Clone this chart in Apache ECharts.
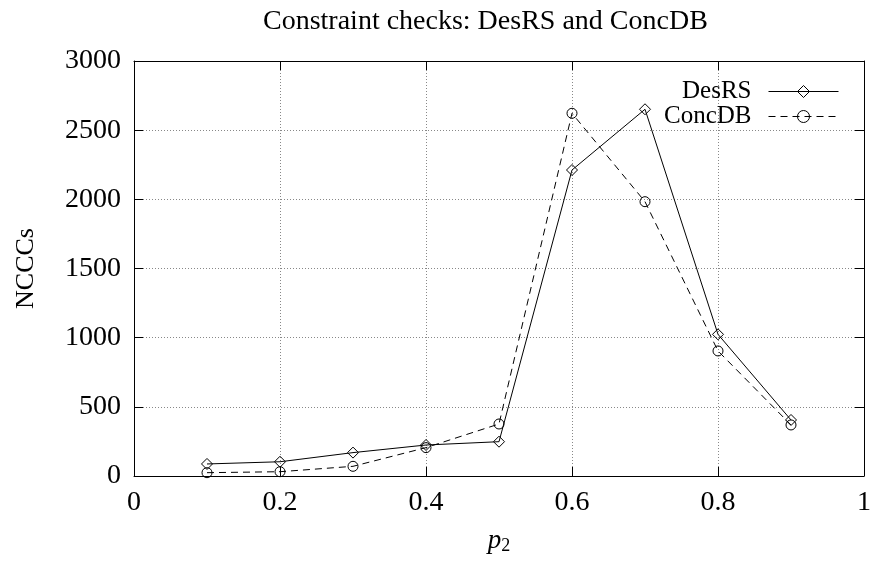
<!DOCTYPE html>
<html>
<head>
<meta charset="utf-8">
<script src="https://cdn.jsdelivr.net/npm/echarts@6/dist/echarts.min.js"></script>
<style>
  html, body { margin: 0; padding: 0; background: #fff; }
  #chart { width: 874px; height: 564px; }
</style>
</head>
<body>
<div id="chart"></div>
<script>
// p2 values and constraint-check counts per solver
const p2 = [0.1, 0.2, 0.3, 0.4, 0.5, 0.6, 0.7, 0.8, 0.9];
const desRS = [87, 103, 169, 224, 248, 2212, 2651, 1024, 405];
const concDB = [24, 31, 70, 205, 376, 2622, 1983, 904, 369];
const seriesNames = ['DesRS', 'ConcDB'];

const FONT = '"Liberation Serif", "Times New Roman", serif';
const pairs = (xs, ys) => xs.map((x, i) => [x, ys[i]]);

const gridLine = { show: true, lineStyle: { color: '#888', type: [1, 2], width: 1 } };
const frame = { show: true, onZero: false, lineStyle: { color: '#000', width: 1 } };
const ticks = { show: true, inside: true, length: 9, lineStyle: { color: '#000' } };
const hollow = { color: 'rgba(255,255,255,0)', borderColor: '#000', borderWidth: 1 };

const chart = echarts.init(document.getElementById('chart'), null, { renderer: 'canvas' });
chart.setOption({
  animation: false,
  backgroundColor: '#fff',
  title: {
    text: 'Constraint checks: DesRS and ConcDB',
    left: 258,
    top: 3,
    textStyle: { fontFamily: FONT, fontSize: 28, fontWeight: 'normal', color: '#000' }
  },
  grid: { left: 134, right: 9, top: 61, bottom: 88, containLabel: false },
  legend: {
    orient: 'vertical',
    right: 30,
    top: 74,
    align: 'right',
    itemWidth: 70,
    itemHeight: 15,
    itemGap: 0,
    lineStyle: { width: 1 },
    textStyle: { fontFamily: FONT, fontSize: 25, color: '#000', padding: [0, 12, 0, 0] },
    data: seriesNames.map(n => ({ name: n, itemStyle: hollow }))
  },
  xAxis: [{
    type: 'value', min: 0, max: 1, interval: 0.2,
    axisLine: frame, axisTick: ticks, splitLine: gridLine,
    axisLabel: { fontFamily: FONT, fontSize: 28, color: '#000', margin: 13 },
    name: '{i|p}{s|2}',
    nameLocation: 'middle',
    nameGap: 51,
    nameTextStyle: {
      rich: {
        i: { fontFamily: FONT, fontSize: 27, fontStyle: 'italic', color: '#000' },
        s: { fontFamily: FONT, fontSize: 18, color: '#000', padding: [10, 0, 0, 0] }
      }
    }
  }, {
    type: 'value', min: 0, max: 1, interval: 0.2, position: 'top',
    axisLine: frame, axisTick: ticks, splitLine: { show: false }, axisLabel: { show: false }
  }],
  yAxis: [{
    type: 'value', min: 0, max: 3000, interval: 500,
    axisLine: frame, axisTick: ticks, splitLine: gridLine,
    axisLabel: { fontFamily: FONT, fontSize: 28, color: '#000', margin: 13, formatter: v => String(v) },
    name: 'NCCCs',
    nameLocation: 'middle',
    nameGap: 95,
    nameTextStyle: { fontFamily: FONT, fontSize: 26, color: '#000' }
  }, {
    type: 'value', min: 0, max: 3000, interval: 500, position: 'right',
    axisLine: frame, axisTick: ticks, splitLine: { show: false }, axisLabel: { show: false }
  }],
  series: [{
    name: 'DesRS',
    type: 'line',
    data: pairs(p2, desRS),
    symbol: 'diamond',
    symbolSize: 11,
    showAllSymbol: true,
    lineStyle: { color: '#000', width: 1, type: 'solid' },
    itemStyle: hollow
  }, {
    name: 'ConcDB',
    type: 'line',
    data: pairs(p2, concDB),
    symbol: 'circle',
    symbolSize: 10,
    showAllSymbol: true,
    lineStyle: { color: '#000', width: 1, type: [7, 5] },
    itemStyle: hollow
  }]
});
</script>
</body>
</html>
